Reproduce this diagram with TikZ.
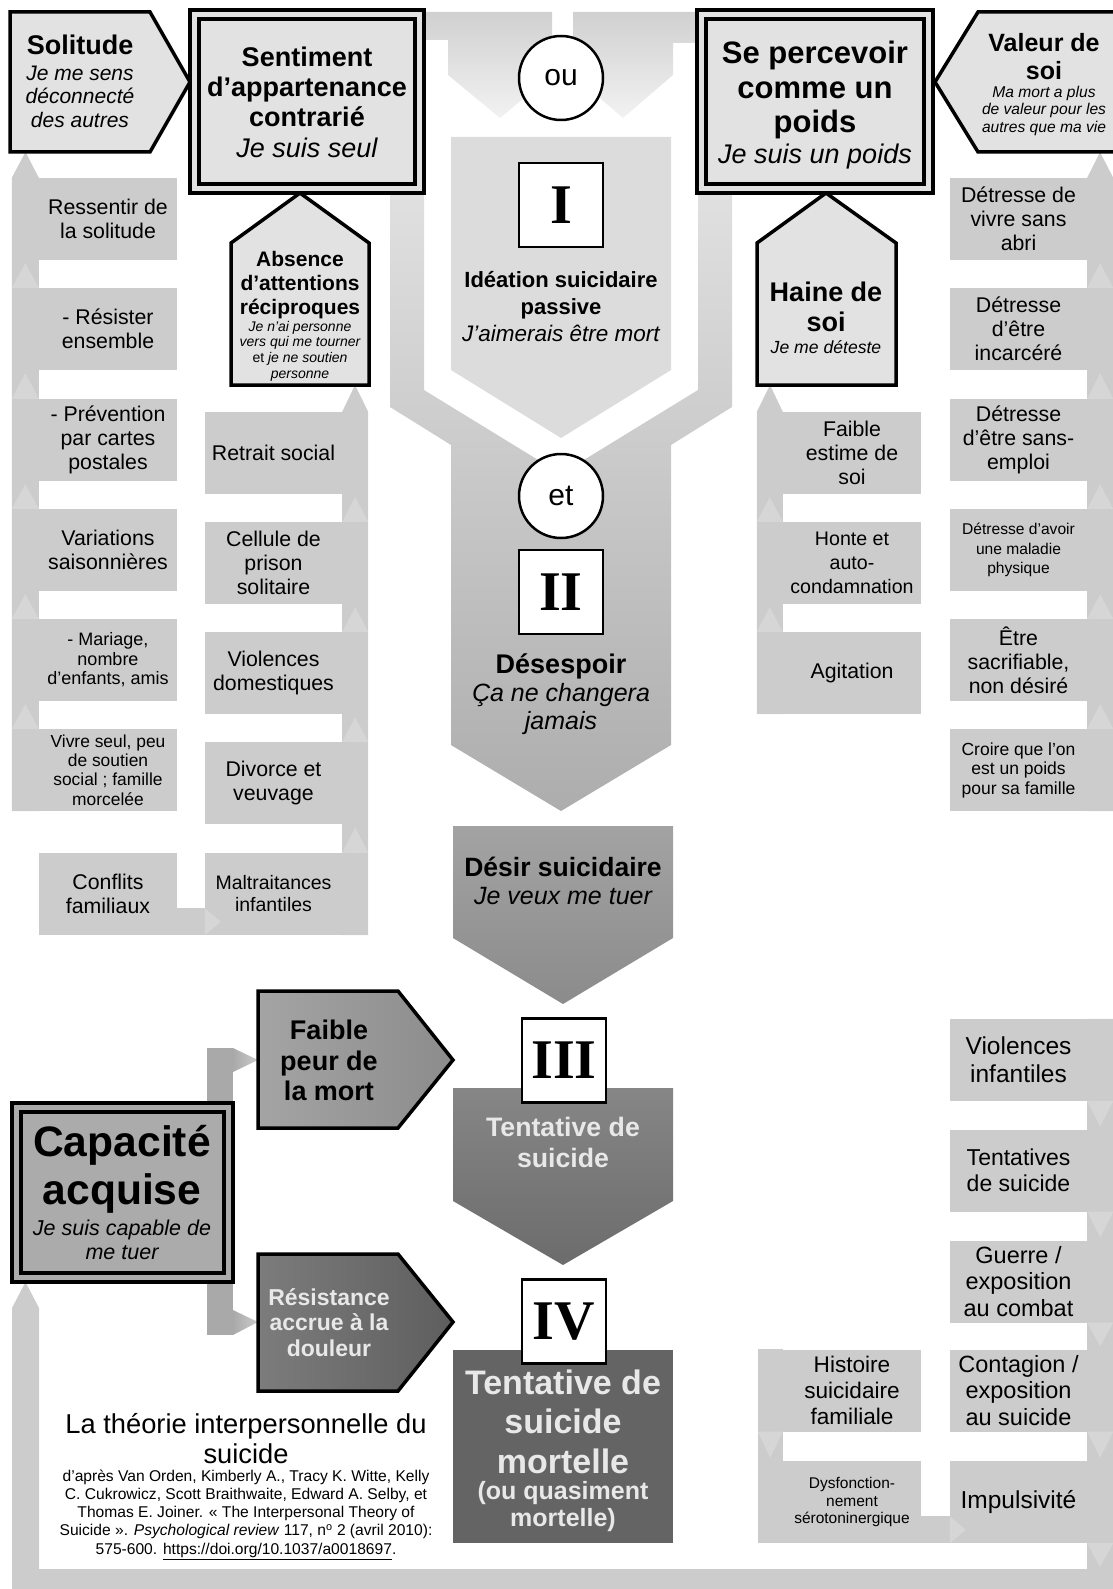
\documentclass[tikz,border=0pt]{standalone}
\usepackage{fontspec}
\setmainfont{Liberation Sans}
\newfontfamily\romfont{Liberation Serif}
\usetikzlibrary{calc}
\newcommand\fsz[2]{\fontsize{#1}{#2}\selectfont}
\definecolor{boxgray}{HTML}{CCCCCC}
\definecolor{tipgray}{HTML}{D6D6D6}
\definecolor{paleg}{HTML}{E2E2E2}
\definecolor{topfade}{HTML}{D0D0D0}
\definecolor{topfadeb}{HTML}{F2F2F2}
\definecolor{ideag}{HTML}{DCDCDC}
\definecolor{bandtop}{HTML}{E0E0E0}
\definecolor{bandbot}{HTML}{ADADAD}
\definecolor{desirtop}{HTML}{A3A3A3}
\definecolor{desirbot}{HTML}{8B8B8B}
\definecolor{tenttop}{HTML}{868686}
\definecolor{tentbot}{HTML}{6C6C6C}
\definecolor{mortg}{HTML}{646464}
\definecolor{capg}{HTML}{ABABAB}
\definecolor{capband}{HTML}{A9A9A9}
\definecolor{peurl}{HTML}{A4A4A4}
\definecolor{peurr}{HTML}{8C8C8C}
\definecolor{resil}{HTML}{7C7C7C}
\definecolor{resir}{HTML}{5E5E5E}
\definecolor{lighttxt}{HTML}{E8E8E8}

\begin{document}
\begin{tikzpicture}[x=1pt,y=-1pt,
  itembox/.style={fill=boxgray,minimum width=138pt,minimum height=82pt,align=center,inner sep=1pt,font=\fsz{21.3}{24}},
  bandfill/.style={fill=boxgray},
  tipfade/.style={fill=tipgray},
  blackrim/.style={draw=black,line width=3.5pt,line join=miter},
  numbox/.style={draw=black,line width=2.5pt,fill=white,minimum size=84pt,inner sep=0pt,font=\romfont\bfseries\fsz{56}{56}},
  ring/.style={circle,draw=black,line width=2.5pt,fill=white,minimum size=84pt,inner sep=0pt,font=\fsz{30}{30}},
  ttl/.style={align=center,inner sep=0pt,font=\bfseries\fsz{27}{30}},
  qt/.style={align=center,inner sep=0pt,font=\itshape\fsz{21}{23.5}},
]
\useasboundingbox (0,0) rectangle (1112,1589);

% facteurs, colonne de gauche
\node[itembox] (l1) at (108,219) {Ressentir de\\la solitude};
\node[itembox] (l2) at (108,329) {- Résister\\ensemble};
\node[itembox] (l3) at (108,440) {- Prévention\\par cartes\\postales};
\node[itembox] (l4) at (108,550) {Variations\\saisonnières};
\node[itembox,font=\fsz{18}{19.6}] (l5) at (108,660) {- Mariage,\\nombre\\d'enfants, amis};
\node[itembox,font=\fsz{17.4}{19.4}] (l6) at (108,770) {Vivre seul, peu\\de soutien\\social ; famille\\morcelée};
\node[itembox] (l7) at (108,894) {Conflits\\familiaux};
% deuxieme colonne
\node[itembox,minimum width=137pt] (m1) at (273.5,453) {Retrait social};
\node[itembox,minimum width=137pt] (m2) at (273.5,563) {Cellule de\\prison\\solitaire};
\node[itembox,minimum width=137pt] (m3) at (273.5,673) {Violences\\domestiques};
\node[itembox,minimum width=137pt] (m4) at (273.5,783) {Divorce et\\veuvage};
\node[itembox,minimum width=137pt,font=\fsz{19.5}{22}] (m5) at (273.5,894) {Maltraitances\\infantiles};
% colonne haine de soi
\node[itembox] (n1) at (852,453) {Faible\\estime de\\soi};
\node[itembox,font=\fsz{19.6}{24}] (n2) at (852,563) {Honte et\\auto-\\condamnation};
\node[itembox] (n3) at (852,673) {Agitation};
% colonne de droite
\node[itembox,minimum width=137pt] (r1) at (1018.5,219) {Détresse de\\vivre sans\\abri};
\node[itembox,minimum width=137pt] (r2) at (1018.5,329) {Détresse\\d'être\\incarcéré};
\node[itembox,minimum width=137pt] (r3) at (1018.5,440) {Détresse\\d'être sans-\\emploi};
\node[itembox,minimum width=137pt,font=\fsz{15.6}{19.4}] (r4) at (1018.5,550) {Détresse d'avoir\\une maladie\\physique};
\node[itembox,minimum width=137pt] (r5) at (1018.5,660) {Être\\sacrifiable,\\non désiré};
\node[itembox,minimum width=137pt,font=\fsz{17.5}{19.5}] (r6) at (1018.5,770) {Croire que l'on\\est un poids\\pour sa famille};
% capacite acquise, colonne du bas
\node[itembox,minimum width=137pt,font=\fsz{24.5}{28.4}] (b1) at (1018.5,1060) {Violences\\infantiles};
\node[itembox,minimum width=137pt,font=\fsz{23}{26}] (b2) at (1018.5,1170.5) {Tentatives\\de suicide};
\node[itembox,minimum width=137pt,font=\fsz{23.5}{26.4}] (b3) at (1018.5,1281.5) {Guerre /\\exposition\\au combat};
\node[itembox,minimum width=137pt,font=\fsz{23.5}{26.4}] (b4) at (1018.5,1390.5) {Contagion /\\exposition\\au suicide};
\node[itembox,minimum width=137pt,font=\fsz{24.5}{28}] (b5) at (1018.5,1502) {Impulsivité};
\node[itembox,font=\fsz{22.6}{26}] (b6) at (852,1390.5) {Histoire\\suicidaire\\familiale};
\node[itembox,font=\fsz{15.5}{17.2}] (b7) at (852,1502) {Dysfonction-\\nement\\sérotoninergique};

% pieds des fleches
\coordinate (solfoot) at (25.5,152);
\coordinate (absfoot) at (355,385);
\coordinate (hainefoot) at (770,385);
\coordinate (valfoot) at (1100,152);
\coordinate (capfoot) at (25.5,1282);
\coordinate (loopy) at (0,1569);

% bandes montantes
\fill[bandfill] ($(l6.south west)+(-27,0)$) -- ($(l1.north west)+(-27,0)$) -- (solfoot) -- (l1.north west) -- (l6.south west) -- cycle;
\foreach \u/\d in {l1/l2,l2/l3,l3/l4,l4/l5,l5/l6}
  \fill[tipfade] ($(\d.north west)+(-27,0)$) -- ($(\u.south west)+(-13.5,3)$) -- (\d.north west) -- cycle;
\fill[bandfill] (m5.south east) -- ($(m5.south east)+(26,0)$) -- ($(m1.north east)+(26,0)$) -- (absfoot) -- (m1.north east) -- cycle;
\foreach \u/\d in {m1/m2,m2/m3,m3/m4,m4/m5}
  \fill[tipfade] (\d.north east) -- ($(\u.south east)+(13,3)$) -- ($(\d.north east)+(26,0)$) -- cycle;
\fill[bandfill] (n3.south west) -- ($(n3.south west)+(-26,0)$) -- ($(n1.north west)+(-26,0)$) -- (hainefoot) -- (n1.north west) -- cycle;
\foreach \u/\d in {n1/n2,n2/n3}
  \fill[tipfade] ($(\d.north west)+(-26,0)$) -- ($(\u.south west)+(-13,3)$) -- (\d.north west) -- cycle;
\fill[bandfill] (r6.south east) -- ($(r6.south east)+(26,0)$) -- ($(r1.north east)+(26,0)$) -- (valfoot) -- (r1.north east) -- cycle;
\foreach \u/\d in {r1/r2,r2/r3,r3/r4,r4/r5,r5/r6}
  \fill[tipfade] (\d.north east) -- ($(\u.south east)+(13,3)$) -- ($(\d.north east)+(26,0)$) -- cycle;
% conflits -> maltraitances
\fill[bandfill] ($(l7.south east)+(0,-27)$) rectangle (m5.south west);
\fill[tipfade] (m5.south west) -- +(0,-27) -- +(16,-13.5) -- cycle;

% boucle du bas vers la capacite acquise
\fill[bandfill] (b1.north east) -- ($(b1.north east)+(26,0)$) -- (1113,1589) -- (12,1589) -- ($(capfoot)+(-13.5,26)$) -- (capfoot) -- ($(capfoot)+(13.5,26)$) -- (39,1569) -- (b1.north east |- loopy) -- cycle;
\foreach \u/\d in {b1/b2,b2/b3,b3/b4,b4/b5}
  \fill[tipfade] (\u.south east) -- ($(\u.south east)+(26,0)$) -- ($(\d.north east)+(13,-3)$) -- cycle;
\fill[tipfade] (b5.south east) -- ($(b5.south east)+(26,0)$) -- (1100,1567) -- cycle;
\fill[bandfill] (b7.south west) -- ($(b7.south west)+(-25,0)$) -- ($(b6.north west)+(-25,0)$) -- (b6.north west) -- cycle;
\fill[tipfade] ($(b6.south west)+(-25,0)$) -- (b6.south west) -- ($(b7.north west)+(-12.5,-3)$) -- cycle;
\fill[bandfill] ($(b7.south east)+(0,-27)$) rectangle (b5.south west);
\fill[tipfade] (b5.south west) -- +(0,-27) -- +(16,-13.5) -- cycle;

% fleches "ou"
\shade[top color=topfade,bottom color=topfadeb] (424,12) -- (552,12) -- (552,75) -- (500,118) -- (448,75) -- (448,40) -- (424,40) -- cycle;
\shade[top color=topfade,bottom color=topfadeb] (573,12) -- (697,12) -- (697,43) -- (673,43) -- (673,75) -- (623,118) -- (573,75) -- cycle;
% I
\fill[ideag] (451,137) -- (671,137) -- (671,370) -- (561,438) -- (451,370) -- cycle;
% II, avec les deux bras
\shade[top color=bandtop,bottom color=bandbot] (390,193) -- (424,193) -- (424,390) -- (561,474) -- (698,390) -- (698,193) -- (732,193) -- (732,407) -- (671,445) -- (671,745) -- (561,811) -- (451,745) -- (451,445) -- (390,407) -- cycle;
% desir suicidaire
\shade[top color=desirtop,bottom color=desirbot] (453,826) -- (673,826) -- (673,938) -- (563,1004) -- (453,938) -- cycle;
% III
\shade[top color=tenttop,bottom color=tentbot] (453,1088) -- (673,1088) -- (673,1201) -- (563,1265) -- (453,1201) -- cycle;
% IV
\fill[mortg] (453,1350) rectangle (673,1543);

% capacite -> peur / douleur
\coordinate (peurtip) at (258,1060);
\coordinate (douleurtip) at (258,1322);
\fill[capband] (207,1048) -- (233,1048) -- (233,1335) -- (207,1335) -- cycle;
\shade[left color=capband,right color=boxgray] (233,1048) -- (peurtip) -- (233,1072) -- cycle;
\shade[left color=capband,right color=boxgray] (233,1310) -- (douleurtip) -- (233,1335) -- cycle;

% cadres du haut
\fill[paleg] (10,12) -- (150,12) -- (190,82) -- (150,152) -- (10,152) -- cycle;
\draw[blackrim] (10,12) -- (150,12) -- (190,82) -- (150,152) -- (10,152) -- cycle;
\fill[paleg] (190,10) rectangle (424,193);
\draw[blackrim] (190,10) rectangle (424,193);
\draw[blackrim] (199,19) rectangle (415,184);
\fill[paleg] (697,10) rectangle (933,193);
\draw[blackrim] (697,10) rectangle (933,193);
\draw[blackrim] (706,19) rectangle (924,184);
\fill[paleg] (978,12) -- (1125,12) -- (1125,152) -- (978,152) -- (935,82) -- cycle;
\draw[blackrim] (978,12) -- (1125,12) -- (1125,152) -- (978,152) -- (935,82) -- cycle;
\fill[paleg] (231,243) -- (300,193) -- (369,243) -- (369,385) -- (231,385) -- cycle;
\draw[blackrim] (231,243) -- (300,193) -- (369,243) -- (369,385) -- (231,385) -- cycle;
\fill[paleg] (757,243) -- (826,193) -- (896,243) -- (896,385) -- (757,385) -- cycle;
\draw[blackrim] (757,243) -- (826,193) -- (896,243) -- (896,385) -- (757,385) -- cycle;

% cadres du bas
\fill[capg] (12,1103) rectangle (233,1282);
\draw[blackrim] (12,1103) rectangle (233,1282);
\draw[blackrim] (21,1112) rectangle (224,1273);
\shadedraw[left color=peurl,right color=peurr,blackrim] (258,991) -- (398,991) -- (453,1060) -- (398,1128) -- (258,1128) -- cycle;
\shadedraw[left color=resil,right color=resir,blackrim] (258,1254) -- (398,1254) -- (453,1322) -- (398,1391) -- (258,1391) -- cycle;

% cercles et numeros
\node[ring] (ou) at (561,78) {ou};
\node[ring] (et) at (561,496) {et};
\node[numbox] (stepI) at (561,205) {I};
\node[numbox] (stepII) at (561,592) {II};
\node[numbox] (stepIII) at (564,1060.5) {III};
\node[numbox] (stepIV) at (564,1321.5) {IV};

% textes
\node[ttl] (solT) at (80,45) {Solitude};
\node[qt] (solQ) at (80,96.5) {Je me sens\\déconnecté\\des autres};
\node[ttl] (sentT) at (307,87) {Sentiment\\d'appartenance\\contrarié};
\node[qt,font=\itshape\fsz{27}{30}] (sentQ) at (307,148) {Je suis seul};
\node[ttl,font=\bfseries\fsz{31}{34.5}] (poidsT) at (815,90) {Se percevoir\\comme un\\poids};
\node[qt,font=\itshape\fsz{27}{30}] (poidsQ) at (815,157) {Je suis un poids};
\node[ttl,font=\bfseries\fsz{25}{28}] (valT) at (1044,57) {Valeur de\\soi};
\node[qt,font=\itshape\fsz{15.6}{17.5}] (valQ) at (1044,110.5) {Ma mort a plus\\de valeur pour les\\autres que ma vie};
\node[ttl,font=\bfseries\fsz{21}{24}] (absT) at (300,285) {Absence\\d'attentions\\réciproques};
\node[qt,font=\itshape\fsz{14}{15.6}] (absQ) at (300,351) {Je n'ai personne\\vers qui me tourner\\{\upshape et} je ne soutien\\personne};
\node[ttl] (haineT) at (826,307) {Haine de\\soi};
\node[qt,font=\itshape\fsz{17.6}{20}] (haineQ) at (826,347) {Je me déteste};
\node[ttl,font=\bfseries\fsz{22}{27}] (ideaT) at (561,295) {Idéation suicidaire\\passive};
\node[qt,font=\itshape\fsz{22.5}{26}] (ideaQ) at (561,333) {J'aimerais être mort};
\node[ttl] (desespT) at (561,666) {Désespoir};
\node[qt,font=\itshape\fsz{25}{28}] (desespQ) at (561,709) {Ça ne changera\\jamais};
\node[ttl,font=\bfseries\fsz{26.5}{30}] (desirT) at (563,867) {Désir suicidaire};
\node[qt,font=\itshape\fsz{25}{28}] (desirQ) at (563,896) {Je veux me tuer};
\node[ttl,font=\bfseries\fsz{26.7}{31},text=lighttxt] (tentT) at (563,1142.5) {Tentative de\\suicide};
\node[ttl,font=\bfseries\fsz{34}{39.5},text=lighttxt] (mortT) at (563,1421.5) {Tentative de\\suicide\\mortelle};
\node[ttl,font=\bfseries\fsz{25}{27},text=lighttxt] (mortQ) at (563,1507) {(ou quasiment\\mortelle)};
\node[ttl,font=\bfseries\fsz{42.6}{48}] (capT) at (122,1169.5) {Capacité\\acquise};
\node[qt,font=\itshape\fsz{21.5}{24}] (capQ) at (122,1240) {Je suis capable de\\me tuer};
\node[ttl,font=\bfseries\fsz{27}{30.5}] (peurT) at (329,1060.5) {Faible\\peur de\\la mort};
\node[ttl,font=\bfseries\fsz{23}{25.5},text=lighttxt] (douleurT) at (329,1322.5) {Résistance\\accrue à la\\douleur};
% titre et reference
\node[align=center,inner sep=0pt,font=\fsz{27.3}{30}] (theoT) at (246,1439) {La théorie interpersonnelle du\\suicide};
\node[align=center,inner sep=0pt,font=\fsz{15.6}{18.3}] (refT) at (246,1514.5) {d'après Van Orden, Kimberly A., Tracy K. Witte, Kelly\\C. Cukrowicz, Scott Braithwaite, Edward A. Selby, et\\Thomas E. Joiner. « The Interpersonal Theory of\\Suicide ». \textit{Psychological review} 117, n\textsuperscript{o} 2 (avril 2010):\\575-600. \underline{https://doi.org/10.1037/a0018697}.};
\end{tikzpicture}
\end{document}
